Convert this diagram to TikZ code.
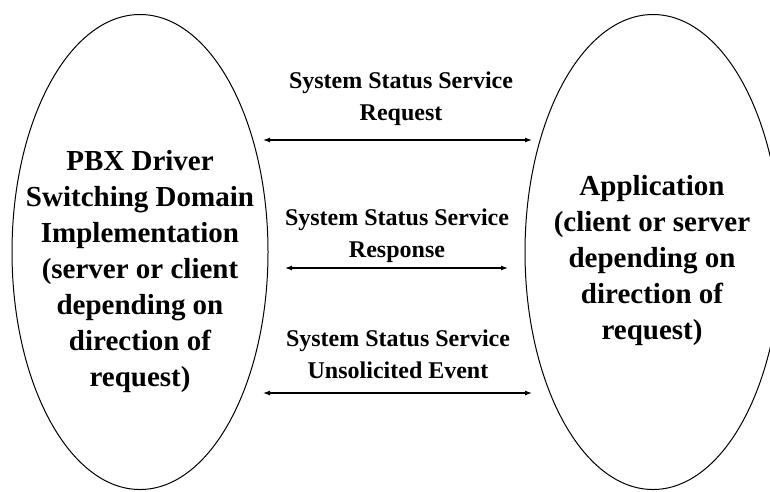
\documentclass[tikz,border=0pt]{standalone}
\usepackage{fontspec}
\setmainfont{Liberation Serif}
\usetikzlibrary{positioning}
\usetikzlibrary{arrows.meta}
\usetikzlibrary{shapes.geometric}

\begin{document}
\begin{tikzpicture}[x=1pt, y=-1pt,
        party/.style={draw, ellipse, line width=1pt, minimum width=256pt, minimum height=475pt, inner sep=0pt},
        partytext/.style={align=center, font=\bfseries\fontsize{29}{36}\selectfont},
        msg/.style={align=center, font=\bfseries\fontsize{24}{32}\selectfont},
        flow/.style={{Latex[length=7pt,width=5pt]}-{Latex[length=7pt,width=5pt]}, line width=1.2pt}]
        \useasboundingbox (0,0) rectangle (770,491);

        \node[party] (pbx) at (140,252) {};
        \node[party] (app) at (653,252) {};
        \node[partytext] (pbx_text) at (140,272) {PBX Driver\\Switching Domain\\Implementation\\(server or client\\depending on\\direction of\\request)};
        \node[partytext] (app_text) at (652,261) {Application\\(client or server\\depending on\\direction of\\request)};

        \node[msg] (req) at (401,99) {System Status Service\\Request};
        \node[msg] (resp) at (397,236) {System Status Service\\Response};
        \node[msg] (event) at (398,354) {System Status Service\\Unsolicited Event};

        \coordinate (req_l) at (263,140);
        \coordinate (req_r) at (532,140);
        \coordinate (resp_l) at (285,268);
        \coordinate (resp_r) at (508,268);
        \coordinate (event_l) at (263,393);
        \coordinate (event_r) at (532,393);

        \draw[flow] (req_l) -- (req_r);
        \draw[flow] (resp_l) -- (resp_r);
        \draw[flow] (event_l) -- (event_r);
        
    \end{tikzpicture}
\end{document}
